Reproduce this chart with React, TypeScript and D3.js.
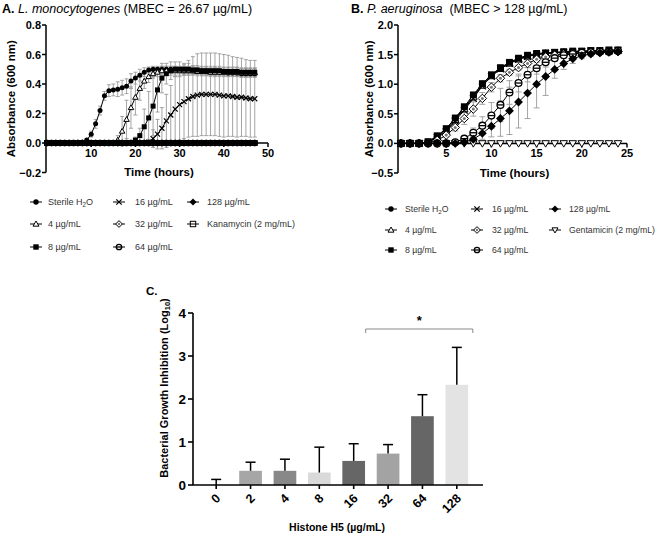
import React from 'react';
import * as d3 from 'd3';

const FONT = '"Liberation Sans", Arial, Helvetica, sans-serif';

// ---------- Panel A : L. monocytogenes (hourly, 0..47 h) ----------
const A_H2O = [0,0,0,0,0,0,0,0,0.005,0.02,0.06,0.13,0.22,0.32,0.355,0.36,0.365,0.375,0.385,0.42,0.44,0.46,0.48,0.495,0.5,0.5,0.5,0.5,0.5,0.5,0.495,0.49,0.49,0.49,0.49,0.485,0.485,0.48,0.48,0.48,0.48,0.475,0.475,0.475,0.47,0.47,0.47,0.47];
const A_H2O_ERR = [0,0,0,0,0,0,0,0,0,0.01,0.02,0.03,0.03,0.03,0.04,0.04,0.05,0.05,0.05,0.05,0.04,0.04,0.03,0.02,0.02,0.02,0.02,0.02,0.02,0.02,0.02,0.02,0.02,0.02,0.02,0.02,0.02,0.02,0.02,0.02,0.02,0.02,0.02,0.02,0.02,0.02,0.02,0.02];
const A_4 = [0,0,0,0,0,0,0,0,0,0,0,0,0,0,0,0,0.02,0.08,0.16,0.24,0.31,0.37,0.42,0.45,0.47,0.48,0.49,0.49,0.49,0.49,0.49,0.49,0.49,0.49,0.485,0.485,0.485,0.48,0.48,0.48,0.48,0.48,0.48,0.48,0.475,0.475,0.475,0.475];
const A_4_ERR = [0,0,0,0,0,0,0,0,0,0,0,0,0,0,0,0,0.03,0.1,0.13,0.14,0.12,0.08,0.05,0.04,0.03,0.03,0.03,0.03,0.03,0.03,0.03,0.03,0.03,0.03,0.03,0.03,0.03,0.03,0.03,0.03,0.03,0.03,0.03,0.03,0.03,0.03,0.03,0.03];
const A_8 = [0,0,0,0,0,0,0,0,0,0,0,0,0,0,0,0,0,0,0,0,0.02,0.05,0.11,0.17,0.25,0.36,0.44,0.47,0.49,0.5,0.5,0.5,0.5,0.495,0.495,0.49,0.49,0.49,0.49,0.49,0.485,0.485,0.485,0.485,0.48,0.48,0.48,0.48];
const A_8_ERR = [0,0,0,0,0,0,0,0,0,0,0,0,0,0,0,0,0,0,0,0,0.02,0.05,0.12,0.18,0.2,0.15,0.1,0.07,0.06,0.05,0.05,0.04,0.04,0.03,0.03,0.03,0.03,0.03,0.03,0.03,0.03,0.03,0.03,0.03,0.03,0.03,0.03,0.03];
const A_16 = [0,0,0,0,0,0,0,0,0,0,0,0,0,0,0,0,0,0,0,0,0,0,0,0.005,0.03,0.06,0.1,0.15,0.19,0.23,0.26,0.28,0.3,0.315,0.325,0.33,0.33,0.33,0.33,0.325,0.32,0.32,0.315,0.31,0.31,0.305,0.3,0.3];
const A_16_ERR = [0,0,0,0,0,0,0,0,0,0,0,0,0,0,0,0,0,0,0,0,0,0,0,0.02,0.06,0.1,0.14,0.18,0.2,0.22,0.24,0.25,0.26,0.27,0.28,0.28,0.28,0.28,0.28,0.28,0.28,0.275,0.27,0.27,0.265,0.26,0.26,0.26];
const A_32 = [0,0,0,0,0,0,0,0,0,0,0,0,0,0,0,0,0,0,0,0,0,0,0,0,0,0,0,0,0,0,0,0,0,0,0,0,0,0,0,0,0,0,0,0,0,0,0,0];
const A_64 = [0,0,0,0,0,0,0,0,0,0,0,0,0,0,0,0,0,0,0,0,0,0,0,0,0,0,0,0,0,0,0,0,0,0,0,0,0,0,0,0,0,0,0,0,0,0,0,0];
const A_128 = [0,0,0,0,0,0,0,0,0,0,0,0,0,0,0,0,0,0,0,0,0,0,0,0,0,0,0,0,0,0,0,0,0,0,0,0,0,0,0,0,0,0,0,0,0,0,0,0];
const A_KAN = [0,0,0,0,0,0,0,0,0,0,0,0,0,0,0,0,0,0,0,0,0,0,0,0,0,0,0,0,0,0,0,0,0,0,0,0,0,0,0,0,0,0,0,0,0,0,0,0];
const A_Y_TICKS = [-0.2, 0, 0.2, 0.4, 0.6, 0.8];
const A_X_TICKS = [10, 20, 30, 40, 50];

// ---------- Panel B : P. aeruginosa (hourly, 0..24 h) ----------
const B_H2O = [0,0,0,0.02,0.12,0.24,0.42,0.6,0.8,1.0,1.15,1.27,1.36,1.43,1.48,1.51,1.52,1.53,1.54,1.55,1.55,1.56,1.56,1.57,1.57];
const B_4 = [0,0,0,0.02,0.11,0.22,0.4,0.58,0.78,0.98,1.14,1.26,1.35,1.42,1.47,1.5,1.52,1.53,1.54,1.54,1.55,1.55,1.56,1.56,1.57];
const B_8 = [0,0,0,0.03,0.13,0.25,0.43,0.62,0.82,1.01,1.16,1.28,1.37,1.44,1.49,1.52,1.53,1.54,1.55,1.56,1.56,1.57,1.57,1.58,1.58];
const B_16 = [0,0,0,0.02,0.1,0.2,0.38,0.56,0.76,0.97,1.13,1.26,1.35,1.42,1.47,1.5,1.52,1.53,1.54,1.54,1.55,1.56,1.56,1.56,1.57];
const B_32 = [0,0,0,0.01,0.05,0.14,0.27,0.42,0.58,0.76,0.95,1.1,1.2,1.28,1.35,1.42,1.46,1.49,1.51,1.52,1.53,1.54,1.54,1.55,1.55];
const B_64 = [0,0,0,0,0,0,0.02,0.08,0.18,0.3,0.47,0.65,0.86,1.02,1.16,1.27,1.37,1.44,1.49,1.51,1.53,1.54,1.55,1.55,1.56];
const B_128 = [0,0,0,0,0,0,0,0.02,0.07,0.17,0.29,0.42,0.55,0.7,0.85,1.0,1.13,1.25,1.35,1.43,1.48,1.51,1.53,1.54,1.55];
const B_GENT = [0,0,0,0,0,0,0,0,0,0,0,0,0,0,0,0,0,0,0,0,0,0,0,0,0];
const B_SMALL_ERR = [0,0,0,0,0.02,0.03,0.04,0.04,0.04,0.04,0.04,0.03,0.03,0.03,0.02,0.02,0.02,0.02,0.02,0.02,0.02,0.02,0.02,0.02,0.02];
const B_32_ERR = [0,0,0,0,0.02,0.03,0.06,0.1,0.12,0.1,0.08,0.06,0.05,0.04,0.03,0.03,0.02,0.02,0.02,0.02,0.02,0.02,0.02,0.02,0.02];
const B_64_ERR = [0,0,0,0,0,0,0,0.03,0.08,0.15,0.22,0.28,0.2,0.15,0.12,0.1,0.08,0.05,0.04,0.03,0.02,0.02,0.02,0.02,0.02];
const B_128_ERR = [0,0,0,0,0,0,0,0.02,0.05,0.1,0.18,0.3,0.4,0.44,0.43,0.4,0.32,0.15,0.1,0.08,0.05,0.04,0.03,0.03,0.03];
const B_Y_TICKS = [-0.5, 0, 0.5, 1.0, 1.5, 2.0];
const B_X_TICKS = [5, 10, 15, 20, 25];

// ---------- Panel C : growth inhibition bars ----------
const C_CATEGORIES = ['0', '2', '4', '8', '16', '32', '64', '128'];
const C_VALUES = [0, 0.33, 0.33, 0.29, 0.56, 0.73, 1.6, 2.33];
const C_ERRORS = [0.13, 0.2, 0.27, 0.59, 0.4, 0.21, 0.5, 0.87];
const C_COLORS = ['#bdbdbd', '#a6a6a6', '#888888', '#d9d9d9', '#666666', '#a3a3a3', '#666666', '#e3e3e3'];
const C_Y_TICKS = [0, 1, 2, 3, 4];

type MarkerType = 'circle' | 'triangle' | 'square' | 'cross' | 'diamondDot' | 'circleBar' | 'diamond' | 'squareBar' | 'triangleDown';

interface Series { label: string; marker: MarkerType; values: number[]; errors?: number[]; }

function Marker({ type, x, y, s }: { type: MarkerType; x: number; y: number; s: number }) {
  const sw = 1;
  switch (type) {
    case 'circle':
      return <circle cx={x} cy={y} r={s} fill="#000" />;
    case 'triangle':
      return <path d={`M${x},${y - s * 1.1}L${x + s * 1.1},${y + s * 0.8}L${x - s * 1.1},${y + s * 0.8}Z`} fill="#fff" stroke="#000" strokeWidth={sw} />;
    case 'triangleDown':
      return <path d={`M${x},${y + s * 1.1}L${x + s * 1.1},${y - s * 0.8}L${x - s * 1.1},${y - s * 0.8}Z`} fill="#fff" stroke="#000" strokeWidth={sw} />;
    case 'square':
      return <rect x={x - s} y={y - s} width={2 * s} height={2 * s} fill="#000" />;
    case 'squareBar':
      return (
        <g>
          <rect x={x - s} y={y - s} width={2 * s} height={2 * s} fill="#fff" stroke="#000" strokeWidth={sw} />
          <line x1={x - s} x2={x + s} y1={y} y2={y} stroke="#000" strokeWidth={sw} />
        </g>
      );
    case 'cross':
      return (
        <g stroke="#000" strokeWidth={1.2}>
          <line x1={x - s} x2={x + s} y1={y - s} y2={y + s} />
          <line x1={x - s} x2={x + s} y1={y + s} y2={y - s} />
        </g>
      );
    case 'diamondDot':
      return (
        <g>
          <path d={`M${x},${y - s * 1.25}L${x + s * 1.25},${y}L${x},${y + s * 1.25}L${x - s * 1.25},${y}Z`} fill="#fff" stroke="#000" strokeWidth={sw} />
          <circle cx={x} cy={y} r={s * 0.45} fill="#777" />
        </g>
      );
    case 'diamond':
      return <path d={`M${x},${y - s * 1.3}L${x + s * 1.3},${y}L${x},${y + s * 1.3}L${x - s * 1.3},${y}Z`} fill="#000" />;
    case 'circleBar':
      return (
        <g>
          <circle cx={x} cy={y} r={s} fill="#fff" stroke="#000" strokeWidth={1.3} />
          <line x1={x - s} x2={x + s} y1={y} y2={y} stroke="#000" strokeWidth={1.3} />
        </g>
      );
  }
  return null;
}

function LegendLabel({ label, x, y, size }: { label: string; x: number; y: number; size: number }) {
  if (label === 'Sterile H2O') {
    return (
      <text x={x} y={y} fontSize={size} fill="#333" fontFamily={FONT}>
        Sterile H<tspan fontSize={size * 0.7} dy={2}>2</tspan><tspan dy={-2}>O</tspan>
      </text>
    );
  }
  return <text x={x} y={y} fontSize={size} fill="#333" fontFamily={FONT}>{label}</text>;
}

interface PanelProps {
  series: Series[];
  drawOrder: number[];
  xDomain: [number, number];
  xRange: [number, number];
  yDomain: [number, number];
  yRange: [number, number];
  xTicks: number[];
  yTicks: number[];
  yAxisX: number;
  ms: number;
  capW: number;
  yLabelX: number;
  xLabelY: number;
  legendCols: number[];
  legendTextCols: number[];
  legendRows: number[];
  legendSize: number;
}

function LinePanel(p: PanelProps) {
  const x = d3.scaleLinear().domain(p.xDomain).range(p.xRange);
  const y = d3.scaleLinear().domain(p.yDomain).range(p.yRange);
  const line = d3.line<number>().x((_, i) => x(i)).y((d) => y(d));
  const y0 = y(0);
  const yTop = y(p.yDomain[1]);
  const yBot = y(p.yDomain[0]);
  const xEnd = x(p.xDomain[1]);
  const cx = (p.yAxisX + xEnd) / 2 + 2;
  return (
    <g fontFamily={FONT}>
      {/* error bars */}
      <g stroke="#9a9a9a" strokeWidth={0.9} fill="none">
        {p.drawOrder.map((si) => {
          const s = p.series[si];
          if (!s.errors) return null;
          return s.values.map((v, i) => {
            const e = s.errors![i];
            if (!e) return null;
            const xi = x(i);
            const yt = y(v + e);
            const yb = y(v - e);
            return (
              <g key={`${si}-${i}`}>
                <line x1={xi} x2={xi} y1={yt} y2={yb} />
                <line x1={xi - p.capW} x2={xi + p.capW} y1={yt} y2={yt} />
                <line x1={xi - p.capW} x2={xi + p.capW} y1={yb} y2={yb} />
              </g>
            );
          });
        })}
      </g>
      {/* axes */}
      <g stroke="#000" strokeWidth={1.5} fill="none">
        <line x1={p.yAxisX} x2={p.yAxisX} y1={yTop} y2={yBot} />
        <line x1={p.yAxisX} x2={xEnd} y1={y0} y2={y0} />
        {p.yTicks.map((t) => (
          <line key={`yt${t}`} x1={p.yAxisX - 4} x2={p.yAxisX} y1={y(t)} y2={y(t)} />
        ))}
        {p.xTicks.map((t) => (
          <line key={`xt${t}`} x1={x(t)} x2={x(t)} y1={y0} y2={y0 + 4} />
        ))}
      </g>
      {/* series */}
      {p.drawOrder.map((si) => {
        const s = p.series[si];
        return (
          <g key={`s${si}`}>
            <path d={line(s.values) || ''} fill="none" stroke="#000" strokeWidth={1} />
            {s.values.map((v, i) => (
              <Marker key={i} type={s.marker} x={x(i)} y={y(v)} s={p.ms} />
            ))}
          </g>
        );
      })}
      {/* tick labels */}
      {p.yTicks.map((t) => (
        <text key={`yl${t}`} x={p.yAxisX - 5} y={y(t) + 4} textAnchor="end" fontSize={11} fontWeight="bold">
          {d3.format('.1f')(t)}
        </text>
      ))}
      {p.xTicks.map((t) => (
        <text key={`xl${t}`} x={x(t)} y={y0 + 14} textAnchor="middle" fontSize={11} fontWeight="bold">
          {t}
        </text>
      ))}
      <text x={cx} y={p.xLabelY} textAnchor="middle" fontSize={11.5} fontWeight="bold">Time (hours)</text>
      <text transform={`translate(${p.yLabelX},${(yTop + yBot) / 2}) rotate(-90)`} textAnchor="middle" fontSize={11.5} fontWeight="bold">
        Absorbance (600 nm)
      </text>
      {/* legend */}
      {p.series.map((s, i) => {
        const col = Math.floor(i / 3);
        const row = i % 3;
        const mx = p.legendCols[col];
        const my = p.legendRows[row];
        return (
          <g key={`lg${i}`}>
            <line x1={mx - 6} x2={mx + 6} y1={my} y2={my} stroke="#000" strokeWidth={1} />
            <Marker type={s.marker} x={mx} y={my} s={2.7} />
            <LegendLabel label={s.label} x={p.legendTextCols[col]} y={my + 3} size={p.legendSize} />
          </g>
        );
      })}
    </g>
  );
}

function BarPanel() {
  const x = d3.scaleBand<string>().domain(C_CATEGORIES).range([199, 474]).paddingInner(0.34).paddingOuter(0.17);
  const y = d3.scaleLinear().domain([0, 4]).range([485, 313]);
  const axisX0 = 193;
  const axisX1 = 483;
  const bw = x.bandwidth();
  const c16 = (x('16') || 0) + bw / 2;
  const c128 = (x('128') || 0) + bw / 2;
  const bracketY = 329;
  return (
    <g fontFamily={FONT}>
      <text x={146} y={295} fontSize={11.5} fontWeight="bold">C.</text>
      {C_CATEGORIES.map((c, i) => {
        const x0 = x(c) || 0;
        const cx = x0 + bw / 2;
        const v = C_VALUES[i];
        const top = y(v + C_ERRORS[i]);
        return (
          <g key={c}>
            {v > 0 && <rect x={x0} y={y(v)} width={bw} height={y(0) - y(v)} fill={C_COLORS[i]} />}
            <line x1={cx} x2={cx} y1={y(v)} y2={top} stroke="#000" strokeWidth={1.5} />
            <line x1={cx - 5} x2={cx + 5} y1={top} y2={top} stroke="#000" strokeWidth={1.5} />
          </g>
        );
      })}
      <g stroke="#000" strokeWidth={1.6}>
        <line x1={axisX0} x2={axisX0} y1={y(4)} y2={y(0)} />
        <line x1={axisX0} x2={axisX1} y1={y(0)} y2={y(0)} />
        {C_Y_TICKS.map((t) => (
          <line key={t} x1={axisX0 - 5} x2={axisX0} y1={y(t)} y2={y(t)} />
        ))}
        {C_CATEGORIES.map((c) => {
          const cx = (x(c) || 0) + bw / 2;
          return <line key={c} x1={cx} x2={cx} y1={y(0)} y2={y(0) + 4} />;
        })}
      </g>
      {C_Y_TICKS.map((t) => (
        <text key={t} x={axisX0 - 7} y={y(t) + 5} textAnchor="end" fontSize={13.5} fontWeight="bold">{t}</text>
      ))}
      {C_CATEGORIES.map((c) => {
        const cx = (x(c) || 0) + bw / 2;
        return (
          <text key={c} transform={`translate(${cx + 5},${499}) rotate(-45)`} textAnchor="end" fontSize={12.5} fontWeight="bold">{c}</text>
        );
      })}
      <text x={337} y={531} textAnchor="middle" fontSize={10.5} fontWeight="bold">Histone H5 (µg/mL)</text>
      <text transform={`translate(168,388) rotate(-90)`} textAnchor="middle" fontSize={11} fontWeight="bold">
        Bacterial Growth Inhibition (Log<tspan fontSize={7.5} dy={2}>10</tspan><tspan dy={-2}>)</tspan>
      </text>
      <g stroke="#888" strokeWidth={1} fill="none">
        <path d={`M${c16 + 12},${bracketY + 4}V${bracketY}H${c128 + 16}V${bracketY + 4}`} />
      </g>
      <text x={(c16 + 12 + c128 + 16) / 2} y={bracketY - 4} textAnchor="middle" fontSize={13} fontWeight="bold">*</text>
    </g>
  );
}

export default function App() {
  const seriesA: Series[] = [
    { label: 'Sterile H2O', marker: 'circle', values: A_H2O, errors: A_H2O_ERR },
    { label: '4 µg/mL', marker: 'triangle', values: A_4, errors: A_4_ERR },
    { label: '8 µg/mL', marker: 'square', values: A_8, errors: A_8_ERR },
    { label: '16 µg/mL', marker: 'cross', values: A_16, errors: A_16_ERR },
    { label: '32 µg/mL', marker: 'diamondDot', values: A_32 },
    { label: '64 µg/mL', marker: 'circleBar', values: A_64 },
    { label: '128 µg/mL', marker: 'diamond', values: A_128 },
    { label: 'Kanamycin (2 mg/mL)', marker: 'squareBar', values: A_KAN },
  ];
  const seriesB: Series[] = [
    { label: 'Sterile H2O', marker: 'circle', values: B_H2O, errors: B_SMALL_ERR },
    { label: '4 µg/mL', marker: 'triangle', values: B_4, errors: B_SMALL_ERR },
    { label: '8 µg/mL', marker: 'square', values: B_8, errors: B_SMALL_ERR },
    { label: '16 µg/mL', marker: 'cross', values: B_16, errors: B_SMALL_ERR },
    { label: '32 µg/mL', marker: 'diamondDot', values: B_32, errors: B_32_ERR },
    { label: '64 µg/mL', marker: 'circleBar', values: B_64, errors: B_64_ERR },
    { label: '128 µg/mL', marker: 'diamond', values: B_128, errors: B_128_ERR },
    { label: 'Gentamicin (2 mg/mL)', marker: 'triangleDown', values: B_GENT },
  ];
  return (
    <svg width={660} height={536} style={{ position: 'absolute', left: 0, top: 0, background: '#fff' }}>
      <rect width={660} height={536} fill="#fff" />
      <text x={2} y={13} fontFamily={FONT} fontSize={12.5}>
        <tspan fontWeight="bold">A. </tspan>
        <tspan fontStyle="italic">L. monocytogenes</tspan>
        <tspan> (MBEC = 26.67 µg/mL)</tspan>
      </text>
      <text x={351} y={13} fontFamily={FONT} fontSize={12.5}>
        <tspan fontWeight="bold">B. </tspan>
        <tspan fontStyle="italic">P. aeruginosa</tspan>
        <tspan xmlSpace="preserve">  (MBEC &gt; 128 µg/mL)</tspan>
      </text>
      <LinePanel
        series={seriesA}
        drawOrder={[7, 0, 1, 2, 3, 4, 5, 6]}
        xDomain={[0, 50]}
        xRange={[47, 268]}
        yDomain={[-0.2, 0.8]}
        yRange={[172.5, 25]}
        xTicks={A_X_TICKS}
        yTicks={A_Y_TICKS}
        yAxisX={46}
        ms={2.5}
        capW={2}
        yLabelX={15}
        xLabelY={176}
        legendCols={[36, 119, 193]}
        legendTextCols={[48, 135, 207]}
        legendRows={[202, 224, 247]}
        legendSize={9}
      />
      <LinePanel
        series={seriesB}
        drawOrder={[7, 0, 1, 2, 3, 4, 5, 6]}
        xDomain={[0, 25]}
        xRange={[401, 627]}
        yDomain={[-0.5, 2.0]}
        yRange={[173, 25]}
        xTicks={B_X_TICKS}
        yTicks={B_Y_TICKS}
        yAxisX={398}
        ms={3.4}
        capW={3}
        yLabelX={373}
        xLabelY={177}
        legendCols={[391, 477, 555]}
        legendTextCols={[405, 492, 569]}
        legendRows={[209, 230, 250]}
        legendSize={8.7}
      />
      <BarPanel />
    </svg>
  );
}
